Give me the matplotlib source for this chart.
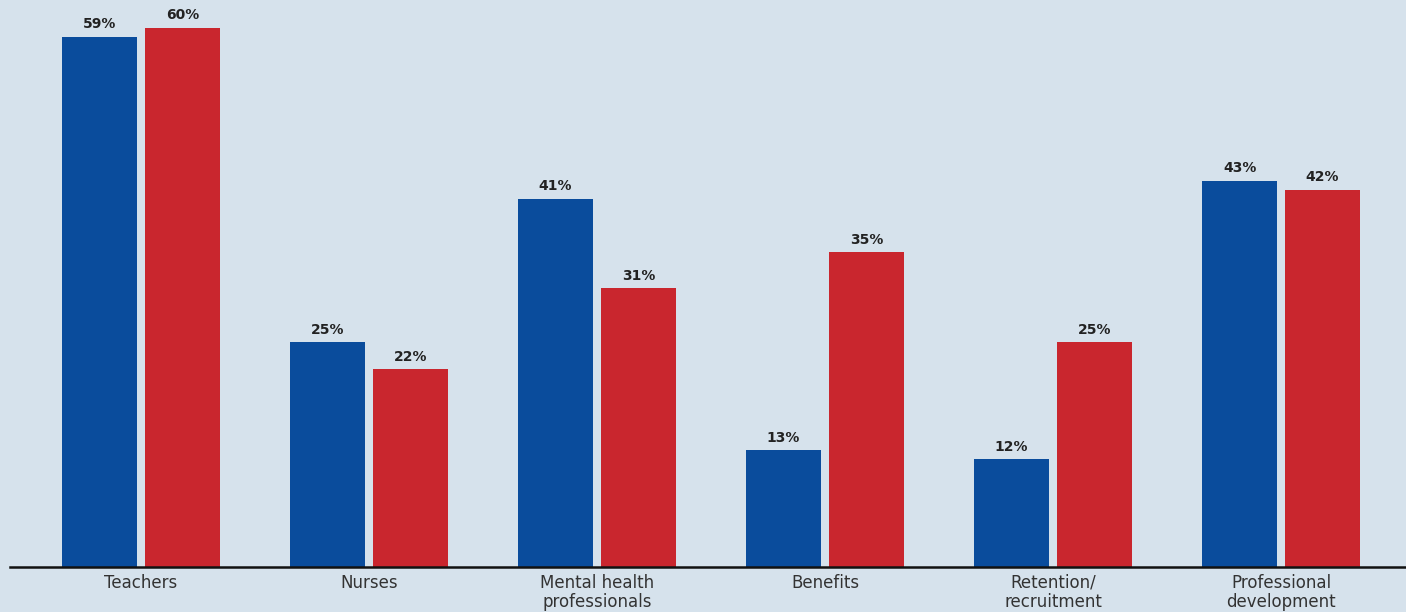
import numpy as np
import matplotlib.pyplot as plt

categories = ["Teachers", "Nurses", "Mental health\nprofessionals", "Benefits",
              "Retention/\nrecruitment", "Professional\ndevelopment"]
blue_vals = [59, 25, 41, 13, 12, 43]
red_vals = [60, 22, 31, 35, 25, 42]

bg = "#d6e2ec"
blue = "#0a4c9c"
red = "#c9262e"

fig = plt.figure(figsize=(14.06, 6.12), dpi=100, facecolor=bg)
ax = fig.add_axes([10 / 1406, 45 / 612, 1396 / 1406, 567 / 612])
ax.set_facecolor(bg)

idx = np.arange(len(categories))
width = 0.329
off = 0.182

b1 = ax.bar(idx - off, blue_vals, width=width, color=blue)
b2 = ax.bar(idx + off, red_vals, width=width, color=red)

# percent labels above each bar
for bars, vals in [(b1, blue_vals), (b2, red_vals)]:
    for rect, v in zip(bars, vals):
        ax.text(rect.get_x() + rect.get_width() / 2, v + 0.6, f"{v}%",
                ha="center", va="bottom", fontsize=10, fontweight="bold",
                color="#222222")

ax.set_xlim(-0.575, 5.548)
ax.set_ylim(0, 63.1)
ax.set_xticks(idx)
ax.set_xticklabels(categories, fontsize=12, color="#333333", linespacing=1.05)
ax.tick_params(axis="x", length=0, pad=5)
ax.set_yticks([])
for s in ["left", "right", "top"]:
    ax.spines[s].set_visible(False)
ax.spines["bottom"].set_linewidth(1.8)
ax.spines["bottom"].set_color("#111111")

fig.savefig("out.png", dpi=100, facecolor=bg)
